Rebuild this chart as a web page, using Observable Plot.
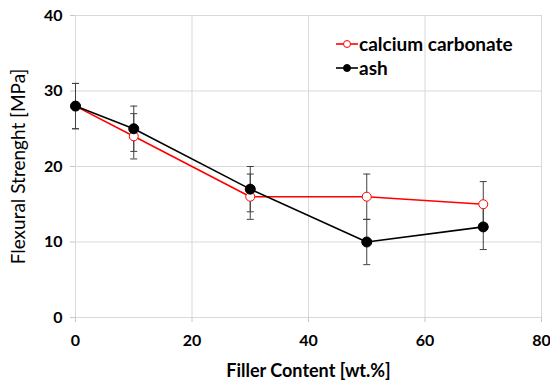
<!DOCTYPE html>
<html><head><meta charset="utf-8">
<script src="https://cdn.jsdelivr.net/npm/d3@7"></script>
<script src="https://cdn.jsdelivr.net/npm/@observablehq/plot@0.6"></script>
<style>
body{margin:0;background:#fff;}
#wrap{position:relative;width:550px;height:387px;font-family:Lato, "Open Sans", sans-serif;}
#legend{position:absolute;left:336px;top:32px;font-weight:bold;font-size:19px;line-height:24px;color:#000;}
#legend div{display:flex;align-items:center;white-space:nowrap;}
#legend svg{margin-right:1px;}
g[aria-label="x-axis label"] text{font-size:18px;}
g[aria-label="y-axis label"] text{font-size:19px;font-weight:normal;}
</style></head><body><div id="wrap"><div id="legend"></div></div>
<script>
const fillerContent = [0, 10, 30, 50, 70];
const calciumCarbonate = [28, 24, 16, 16, 15];
const calciumCarbonateErr = [3, 3, 3, 3, 3];
const ash = [28, 25, 17, 10, 12];
const ashErr = [3, 3, 3, 3, 3];
const seriesNames = ["calcium carbonate", "ash"];
const seriesColors = ["#ff0000", "#000000"];
const xTicks = [0, 20, 40, 60, 80];
const yTicks = [0, 10, 20, 30, 40];

const rows = [];
fillerContent.forEach((x, i) => {
  rows.push({series: seriesNames[0], x, y: calciumCarbonate[i], e: calciumCarbonateErr[i]});
});
fillerContent.forEach((x, i) => {
  rows.push({series: seriesNames[1], x, y: ash[i], e: ashErr[i]});
});
const cc = rows.filter(d => d.series === seriesNames[0]);
const as = rows.filter(d => d.series === seriesNames[1]);

const capSymbol = {draw(ctx) { ctx.moveTo(-3.5, 0); ctx.lineTo(3.5, 0); }};
const errColor = "#404040";

const chart = Plot.plot({
  width: 550,
  height: 387,
  marginLeft: 75,
  marginRight: 9,
  marginTop: 15,
  marginBottom: 70,
  style: {fontFamily: "Lato, 'Open Sans', sans-serif", fontWeight: "bold", fontSize: "16px", color: "#000", background: "#fff"},
  x: {domain: [0, 80]},
  y: {domain: [0, 40]},
  marks: [
    Plot.gridY(yTicks, {stroke: "#d9d9d9", strokeOpacity: 1, strokeWidth: 1}),
    Plot.gridX(xTicks, {stroke: "#d9d9d9", strokeOpacity: 1, strokeWidth: 1}),
    Plot.axisY(yTicks, {tickSize: 5, stroke: "#c8c8c8", fill: "#000", tickPadding: 8,
      label: "Flexural Strenght [MPa]", labelAnchor: "center", labelArrow: "none", labelOffset: 64}),
    Plot.axisX(xTicks, {tickSize: 5, stroke: "#c8c8c8", fill: "#000", tickPadding: 12,
      label: "Filler Content [wt.%]", labelAnchor: "center", labelArrow: "none", labelOffset: 59}),
    // error bars
    Plot.ruleX(rows, {x: "x", y1: d => d.y - d.e, y2: d => d.y + d.e, stroke: errColor, strokeWidth: 1}),
    Plot.dot(rows, {x: "x", y: d => d.y - d.e, symbol: capSymbol, stroke: errColor, strokeWidth: 1, fill: "none"}),
    Plot.dot(rows, {x: "x", y: d => d.y + d.e, symbol: capSymbol, stroke: errColor, strokeWidth: 1, fill: "none"}),
    // lines
    Plot.line(cc, {x: "x", y: "y", stroke: seriesColors[0], strokeWidth: 1.6}),
    Plot.line(as, {x: "x", y: "y", stroke: seriesColors[1], strokeWidth: 1.6}),
    Plot.dot(cc, {x: "x", y: "y", r: 4.5, fill: "#fff", stroke: seriesColors[0], strokeWidth: 1}),
    Plot.dot(as, {x: "x", y: "y", r: 5, fill: seriesColors[1], stroke: seriesColors[1], strokeWidth: 1})
  ]
});
document.getElementById("wrap").prepend(chart);

const legend = document.getElementById("legend");
seriesNames.forEach((name, i) => {
  const item = document.createElement("div");
  const filled = i === 1;
  item.innerHTML = `<svg width="22" height="12"><line x1="0" x2="22" y1="6" y2="6" stroke="${seriesColors[i]}" stroke-width="1.6"/>` +
    `<circle cx="11" cy="6" r="3.5" fill="${filled ? seriesColors[i] : '#fff'}" stroke="${seriesColors[i]}" stroke-width="1"/></svg><span>${name}</span>`;
  legend.appendChild(item);
});
</script>
</body></html>
